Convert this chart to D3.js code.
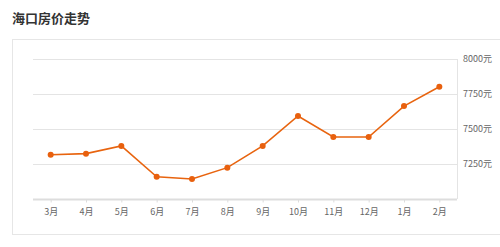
<!DOCTYPE html>
<html lang="zh">
<head>
<meta charset="UTF-8">
<title>海口房价走势</title>
<style>
  body { margin: 0; background: #fff; }
  .title { font-family: "Noto Sans CJK SC", sans-serif; font-size: 13px; font-weight: bold; fill: #333; }
  .Axis text { font-family: "Noto Sans CJK SC", sans-serif; font-size: 9px; fill: #666; }
</style>
<script src="https://d3js.org/d3.v7.min.js"></script>
</head>
<body>
<script>
  // 月份与价格 (元/平米)
  var months = ["3月", "4月", "5月", "6月", "7月", "8月", "9月", "10月", "11月", "12月", "1月", "2月"];
  var prices = [7316, 7324, 7379, 7159, 7143, 7224, 7379, 7593, 7443, 7443, 7664, 7802];
  var yTicks = [7250, 7500, 7750, 8000];

  const w = 500, h = 247;
  const plotL = 33, plotR = 457, plotT = 59, plotB = 199;

  const svg = d3.select("body").append("svg")
      .attr("width", w).attr("height", h);

  svg.append("text").text("海口房价走势")
     .attr("class", "title")
     .attr("x", 12).attr("y", 23);

  // 外框
  svg.append("rect")
     .attr("x", 12.5).attr("y", 39.5)
     .attr("width", 520).attr("height", 195)
     .attr("fill", "none").attr("stroke", "#e6e6e6");

  var xScale = d3.scalePoint().domain(months).range([plotL, plotR]).padding(0.5);
  var yScale = d3.scaleLinear().domain([7000, 8000]).range([plotB, plotT]);

  // 网格线
  svg.append("g").selectAll("line")
     .data(yTicks).enter().append("line")
     .attr("x1", plotL).attr("x2", plotR)
     .attr("y1", d => Math.round(yScale(d)) + 0.5)
     .attr("y2", d => Math.round(yScale(d)) + 0.5)
     .attr("stroke", "#e4e4e4");

  svg.append("line")
     .attr("x1", plotR + 0.5).attr("x2", plotR + 0.5)
     .attr("y1", plotT).attr("y2", plotB)
     .attr("stroke", "#e4e4e4");

  var xAxis = d3.axisBottom(xScale).tickSize(3).tickPadding(6);
  var gx = svg.append("g").attr("class", "Axis")
     .attr("transform", "translate(0," + (plotB + 0.5) + ")")
     .call(xAxis);
  gx.select(".domain").attr("stroke", "#ddd").attr("stroke-width", 2)
     .attr("d", "M" + plotL + ",0H" + plotR);
  gx.selectAll(".tick line").attr("stroke", "#ddd");

  var yAxis = d3.axisRight(yScale).tickValues(yTicks).tickSize(0).tickPadding(6)
     .tickFormat(d => d + "元");
  var gy = svg.append("g").attr("class", "Axis")
     .attr("transform", "translate(" + plotR + ",0)")
     .call(yAxis);
  gy.select(".domain").remove();

  var line = d3.line()
     .x((d, i) => xScale(months[i]))
     .y(d => yScale(d));

  svg.append("path").datum(prices)
     .attr("d", line)
     .attr("fill", "none")
     .attr("stroke", "#e8640f")
     .attr("stroke-width", 1.6);

  svg.selectAll("circle").data(prices).enter().append("circle")
     .attr("cx", (d, i) => xScale(months[i]))
     .attr("cy", d => yScale(d))
     .attr("r", 3)
     .attr("fill", "#e8600e");
</script>
</body>
</html>
